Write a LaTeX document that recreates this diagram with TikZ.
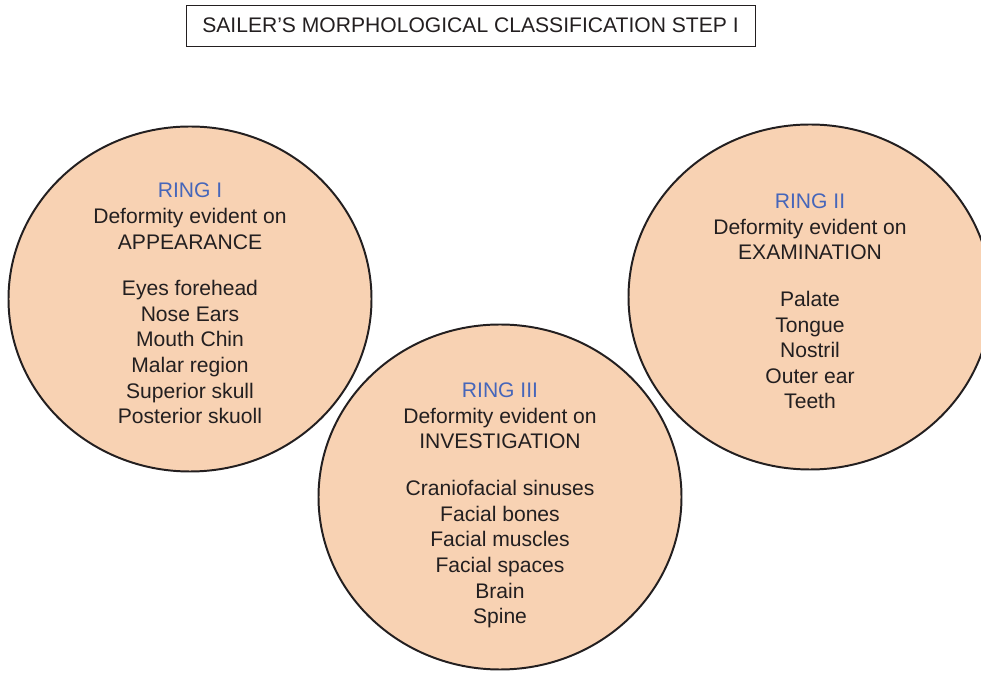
\documentclass[tikz,border=0pt]{standalone}
\usepackage{fontspec}
\setmainfont{Liberation Sans}
\usetikzlibrary{shapes.geometric}
\definecolor{ringfill}{RGB}{248,210,179}
\definecolor{ringblue}{RGB}{70,102,186}
\definecolor{ringtext}{RGB}{35,31,32}
\begin{document}
\begin{tikzpicture}[
    x=0.025cm, y=-0.025cm,
    font=\fontsize{15}{18.2}\selectfont,
    text=ringtext,
    ring/.style={
        ellipse,
        draw=ringtext,
        line width=1.4pt,
        fill=ringfill,
        minimum width=363*0.025cm,
        minimum height=345*0.025cm,
        inner sep=0pt
    },
    ringlist/.style={
        align=center,
        inner sep=0pt
    },
    titlebox/.style={
        draw=ringtext,
        line width=0.7pt,
        minimum width=569*0.025cm,
        minimum height=41*0.025cm,
        inner sep=0pt
    }
]
\useasboundingbox (0,0) rectangle (981,674);

\node[titlebox] (title) at (470.5,25.5) {SAILER'S MORPHOLOGICAL CLASSIFICATION STEP I};

% the three rings
\node[ring] (ringone) at (190,299) {};
\node[ring] (ringtwo) at (810,297) {};
\node[ring] (ringthree) at (500,497) {};

\node[ringlist] (listone) at ([shift={(0,4.5)}]ringone.center) {
\textcolor{ringblue}{RING I}\\
Deformity evident on\\
APPEARANCE\\[15pt]
Eyes forehead\\
Nose Ears\\
Mouth Chin\\
Malar region\\
Superior skull\\
Posterior skuoll
};

\node[ringlist] (listtwo) at ([shift={(0,4.5)}]ringtwo.center) {
\textcolor{ringblue}{RING II}\\
Deformity evident on\\
EXAMINATION\\[15pt]
Palate\\
Tongue\\
Nostril\\
Outer ear\\
Teeth
};

\node[ringlist] (listthree) at ([shift={(0,8.5)}]ringthree.center) {
\textcolor{ringblue}{RING III}\\
Deformity evident on\\
INVESTIGATION\\[15pt]
Craniofacial sinuses\\
Facial bones\\
Facial muscles\\
Facial spaces\\
Brain\\
Spine
};

\end{tikzpicture}
\end{document}
